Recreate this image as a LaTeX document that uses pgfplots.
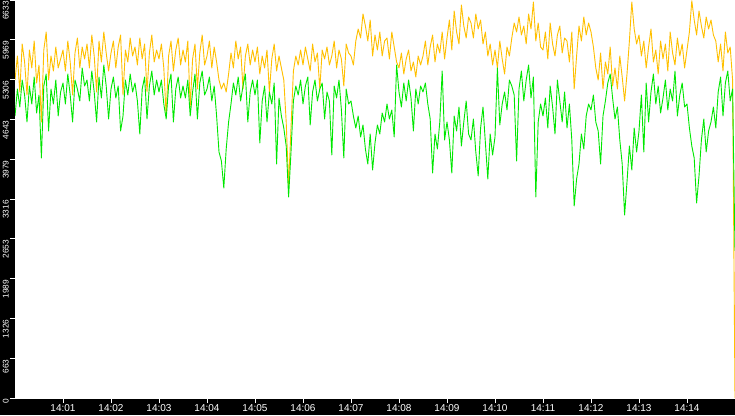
\documentclass[border=0pt]{standalone}
\usepackage{pgfplots}
\pgfplotsset{compat=1.18}
\usepackage{pgfplotstable}
\usepackage{fontspec}
\setmainfont{Liberation Sans}
\definecolor{sorange}{RGB}{255,192,0}
\definecolor{sgreen}{RGB}{0,232,0}
\pgfplotstableread{
t o g
0 5300 4700
3 5700 5150
6 5100 4850
9 5900 5300
12 5600 5050
15 5050 4600
18 5800 5200
21 5500 4900
24 5950 5350
27 5250 4750
30 5550 5050
33 4600 4000
36 5800 5200
39 6100 5400
42 5300 4450
45 5700 5150
48 5450 4900
51 5850 5300
54 5500 4700
57 5650 5100
60 5800 5250
63 5450 4900
66 5950 5400
69 5600 5050
72 5050 4600
75 5750 5300
78 6000 5150
81 5500 4950
84 5850 5500
87 5650 5200
90 5900 5300
93 5500 4950
96 6050 5450
99 5700 5100
102 5100 4600
105 5950 5350
108 5600 5000
111 6100 5550
114 5750 5200
117 5450 4650
120 5750 5150
123 5950 5350
126 5500 5000
129 5850 5200
132 6050 4450
135 5050 4700
138 5800 5300
141 5600 5050
144 6000 5400
147 5700 5100
150 5850 5250
153 5550 4950
156 6000 4400
159 5650 5150
162 5900 5350
165 5100 4650
168 5750 5200
171 6050 5450
174 5600 5050
177 5800 5300
180 5650 5100
183 5900 5300
186 5500 4900
189 4700 4650
192 5700 5200
195 5950 5400
198 5450 4600
201 5800 5150
204 6000 5350
207 5550 5000
210 5800 5200
213 5600 5000
216 5950 5300
219 4850 4700
222 5650 5100
225 5900 5400
228 5150 4650
231 5750 5250
234 6050 5450
237 5550 5050
240 5700 5150
243 5950 5350
246 5500 4950
249 5850 5200
252 5600 4700
255 5300 4100
258 5150 3950
261 5250 3500
264 5100 4150
267 5400 4600
270 5750 4900
273 5500 5250
276 5950 5050
279 5650 5350
282 5850 4950
285 5150 5200
288 5700 5400
291 5900 4600
294 5550 5100
297 5800 5300
300 5600 5050
303 5850 5300
306 5400 4250
309 5700 4950
312 5500 5200
315 5800 4600
318 5100 5100
321 5650 4900
324 5900 5250
327 5450 3900
330 5700 5000
333 5500 4700
336 5300 4500
339 4600 4200
342 3550 3350
345 4500 4100
348 5450 4950
351 5700 5200
354 5550 5050
357 5800 5300
360 5550 4900
363 5850 5200
366 5650 5350
369 5450 4550
372 5900 5100
375 5600 5300
378 5750 4950
381 5150 5150
384 5800 5250
387 5650 4650
390 5850 5100
393 5550 4950
396 5700 4050
399 5950 5200
402 5500 5000
405 5800 5300
408 5650 4800
411 5200 4000
414 5900 5150
417 5750 4900
420 5700 4950
423 5550 4700
426 5950 4500
429 6150 4700
432 6000 4350
435 6400 4550
438 6200 4150
441 5950 3900
444 6300 4400
447 5700 3800
450 6050 4250
453 5800 4550
456 6100 4400
459 5700 4750
462 5950 4600
465 6000 4900
468 5650 4650
471 6100 4800
474 5850 4350
477 5600 5550
480 5500 5100
483 5750 4850
486 5400 5250
489 5650 4950
492 5800 5300
495 5450 5000
498 5600 4450
501 5350 5150
504 5700 4900
507 5550 5200
510 5700 5100
513 5950 5250
516 5550 4900
519 5850 4650
522 6050 3750
525 5600 4400
528 5900 4150
531 5750 4600
534 6100 5450
537 5650 4300
540 6000 4600
543 6300 4300
546 5800 3750
549 6450 4700
552 6100 4450
555 5900 4850
558 6550 4200
561 6200 4600
564 6000 4950
567 6350 4400
570 6250 4300
573 6000 4650
576 6400 4100
579 6150 3700
582 6300 4500
585 5900 4850
588 6100 4250
591 5700 3650
594 5900 4400
597 5550 4050
600 5800 4350
603 5500 5500
606 5950 4550
609 5650 4900
612 5400 5100
615 5850 4800
618 5700 5300
621 6000 5200
624 6250 5050
627 6100 3950
630 6350 5150
633 6050 5450
636 6200 4950
639 5900 5300
642 6400 5550
645 6150 5000
648 6600 5350
651 5950 3350
654 6250 4600
657 5850 4900
660 5800 4700
663 6100 5000
666 5650 4500
669 6250 5200
672 5900 4850
675 5700 4400
678 6050 5300
681 6200 4950
684 5750 4600
687 6000 5100
690 5950 4500
693 5600 4900
696 6100 4300
699 5150 3200
702 5700 3650
705 6200 3900
708 5950 4400
711 6350 4150
714 6050 4700
717 6250 4900
720 6100 4800
723 5850 5050
726 5500 4600
729 5300 4450
732 5750 3900
735 5150 4700
738 5600 4950
741 5400 5250
744 5850 5400
747 5200 5000
750 5500 4650
753 5150 4850
756 5700 4300
759 5350 3900
762 4950 3050
765 5400 3600
768 5950 4200
771 6600 3800
774 6150 4500
777 5900 4100
780 6050 4450
783 5700 5050
786 5950 4100
789 5500 5250
792 5850 4600
795 6150 5100
798 5600 5400
801 5800 4900
804 5400 5200
807 5950 4750
810 5650 5000
813 5900 5300
816 5450 4800
819 6100 5150
822 5750 4950
825 5550 5450
828 6000 4700
831 5700 5050
834 5900 5250
837 5500 4850
840 5800 4900
843 6100 4500
846 6620 4200
849 6300 4000
852 6050 3250
855 6450 3700
858 6200 4300
861 6000 4650
864 6350 4100
867 6150 4450
870 6300 4600
873 6050 4850
876 5950 4500
879 5600 5100
882 5900 5350
885 5450 4700
888 6100 5250
891 5750 5450
894 5850 4950
897 5300 5150
900 0 2450
}\data
\begin{document}
\begin{tikzpicture}
\useasboundingbox (0,0) rectangle (735pt,415pt);
\fill[black] (0,0) rectangle (735pt,415pt);
\begin{axis}[
  at={(15pt,17pt)}, anchor=south west,
  scale only axis, width=720pt, height=398pt,
  xmin=0, xmax=900, ymin=0, ymax=6633,
  axis background/.style={fill=white},
  axis line style={white},
  xtick={60,120,...,840},
  xticklabels={14:01,14:02,14:03,14:04,14:05,14:06,14:07,14:08,14:09,14:10,14:11,14:12,14:13,14:14},
  ytick={0,663,1326,1989,2653,3316,3979,4643,5306,5969,6633},
  yticklabels={0,663,1326,1989,2653,3316,3979,4643,5306,5969,6633},
  xtick pos=left, ytick pos=left,
  tick align=outside, major tick length=5pt,
  tick style={white, line width=0.8pt},
  xticklabel style={white, font=\fontsize{10}{12}\selectfont, inner sep=1pt},
  yticklabel style={white, font=\fontsize{8.3}{10}\selectfont, rotate=90, anchor=south east, inner sep=1pt},
]
\addplot[sorange, line width=0.9pt, line join=round] table[x=t, y=o] {\data};
\addplot[sgreen, line width=0.9pt, line join=round] table[x=t, y=g] {\data};
\end{axis}
\end{tikzpicture}
\end{document}
